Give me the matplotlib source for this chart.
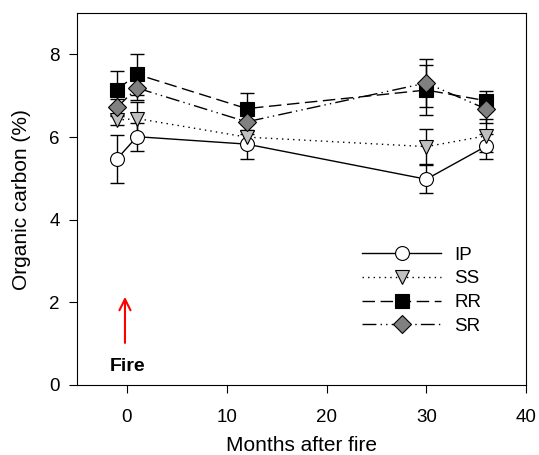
import matplotlib
matplotlib.use("Agg")
import matplotlib.pyplot as plt

plt.rcParams['font.family'] = ['Liberation Sans', 'DejaVu Sans']

months = [-1, 1, 12, 30, 36]
series = ["IP", "SS", "RR", "SR"]
ip = [5.47, 6.01, 5.83, 4.98, 5.78]
ip_err = [0.57, 0.34, 0.35, 0.34, 0.30]
ss = [6.41, 6.45, 6.00, 5.77, 6.03]
ss_err = [0.12, 0.40, 0.15, 0.42, 0.40]
rr = [7.15, 7.52, 6.69, 7.14, 6.88]
rr_err = [0.45, 0.50, 0.37, 0.60, 0.24]
sr = [6.72, 7.19, 6.37, 7.31, 6.68]
sr_err = [0.20, 0.30, 0.30, 0.58, 0.35]

fig = plt.figure(figsize=(5.39, 4.55), dpi=100)
ax = fig.add_axes([0.143, 0.154, 0.833, 0.817])

styles = [
    (ip, ip_err, 'o', 'white', '-'),
    (ss, ss_err, 'v', '#c0c0c0', (0, (1, 3))),
    (rr, rr_err, 's', 'black', (0, (9, 4))),
    (sr, sr_err, 'D', '#808080', (0, (10, 3, 1, 3, 1, 3))),
]
for name, (vals, errs, mk, fc, ls) in zip(series, styles):
    ax.errorbar(months, vals, yerr=errs, fmt='none', ecolor='black',
                elinewidth=1.0, capsize=5, capthick=1.0, zorder=2)
    ax.plot(months, vals, color='black', linestyle=ls, linewidth=1.0,
            marker=mk, markersize=10 if mk != 'D' else 9, markerfacecolor=fc,
            markeredgecolor='black', markeredgewidth=0.8, label=name, zorder=3)

ax.set_xlim(-5, 40)
ax.set_ylim(0, 9)
ax.set_xticks([0, 10, 20, 30, 40])
ax.set_yticks([0, 2, 4, 6, 8])
ax.tick_params(direction='out', length=5.5, labelsize=13.5, top=False, right=False)
ax.tick_params(axis='x', pad=12)
ax.tick_params(axis='y', pad=7)
ax.set_xlabel("Months after fire", fontsize=15, labelpad=7)
ax.set_ylabel("Organic carbon (%)", fontsize=15, labelpad=13)

ax.annotate('', xy=(-0.2, 2.2), xytext=(-0.2, 0.95),
            arrowprops=dict(arrowstyle='->', color='red', lw=1.5,
                            mutation_scale=20))
ax.text(0.1, 0.45, "Fire", fontsize=14, fontweight='bold',
        ha='center', va='center')

ax.legend(loc='upper left', bbox_to_anchor=(0.635, 0.372), frameon=False,
          fontsize=13.5, handlelength=4.2, labelspacing=0.35, handletextpad=0.7,
          borderpad=0, borderaxespad=0)

fig.savefig("out.png", dpi=100)
